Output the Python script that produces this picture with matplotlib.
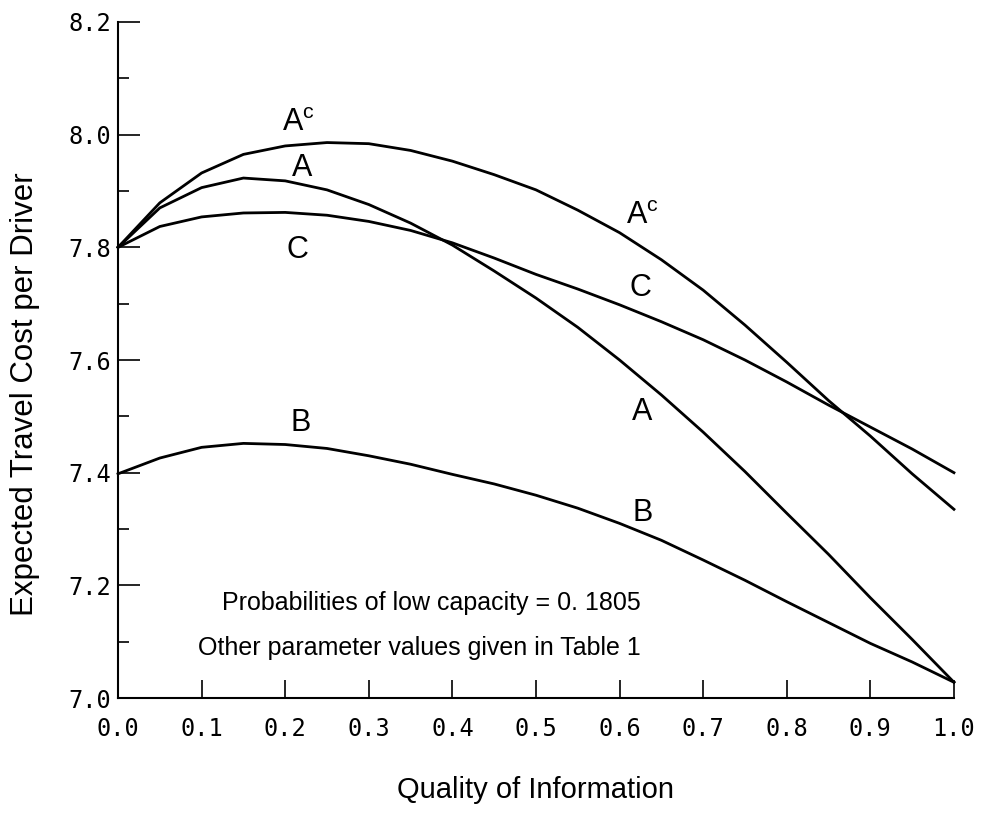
import numpy as np
import matplotlib
matplotlib.use('Agg')
import matplotlib.pyplot as plt
from matplotlib.ticker import MultipleLocator

# quality of information
x = [0.0, 0.05, 0.1, 0.15, 0.2, 0.25, 0.3, 0.35, 0.4, 0.45, 0.5,
     0.55, 0.6, 0.65, 0.7, 0.75, 0.8, 0.85, 0.9, 0.95, 1.0]

# expected travel cost per driver
cost_Ac = [7.800, 7.879, 7.932, 7.965, 7.980, 7.986, 7.984, 7.972, 7.953, 7.929, 7.902,
           7.866, 7.826, 7.778, 7.724, 7.662, 7.596, 7.528, 7.465, 7.398, 7.335]
cost_A = [7.800, 7.870, 7.906, 7.923, 7.918, 7.902, 7.876, 7.843, 7.804, 7.758, 7.710,
          7.658, 7.600, 7.538, 7.472, 7.402, 7.328, 7.255, 7.178, 7.104, 7.028]
cost_C = [7.800, 7.837, 7.854, 7.861, 7.862, 7.857, 7.846, 7.830, 7.808, 7.781, 7.752,
          7.726, 7.698, 7.668, 7.636, 7.600, 7.561, 7.520, 7.481, 7.442, 7.400]
cost_B = [7.398, 7.426, 7.445, 7.452, 7.450, 7.443, 7.430, 7.415, 7.397, 7.380, 7.360,
          7.337, 7.310, 7.280, 7.245, 7.209, 7.171, 7.134, 7.097, 7.064, 7.028]

xticks = [0.0, 0.1, 0.2, 0.3, 0.4, 0.5, 0.6, 0.7, 0.8, 0.9, 1.0]
yticks = [7.0, 7.2, 7.4, 7.6, 7.8, 8.0, 8.2]

fig = plt.figure(figsize=(9.86, 8.30), dpi=100)
ax = fig.add_axes([0.1197, 0.159, 0.8478, 0.8145])

for y in (cost_Ac, cost_A, cost_C, cost_B):
    ax.plot(x, y, color='black', lw=2.0, solid_joinstyle='round', clip_on=False)

ax.set_xlim(0.0, 1.0)
ax.set_ylim(7.0, 8.2)
ax.spines['top'].set_visible(False)
ax.spines['right'].set_visible(False)
ax.spines['left'].set_linewidth(1.5)
ax.spines['bottom'].set_linewidth(1.5)

ax.set_xticks(xticks)
ax.set_xticklabels(['%.1f' % v for v in xticks])
ax.set_yticks(yticks)
ax.set_yticklabels(['%.1f' % v for v in yticks])
ax.yaxis.set_minor_locator(MultipleLocator(0.1))
ax.tick_params(axis='x', direction='in', length=13, width=1.2, pad=14)
ax.tick_params(axis='y', which='major', direction='in', length=16, width=1.2, pad=5)
ax.tick_params(axis='y', which='minor', direction='in', length=8, width=1.2)
for lab in ax.get_xticklabels() + ax.get_yticklabels():
    lab.set_fontfamily('DejaVu Sans Mono')
    lab.set_fontsize(17)

ax.set_xlabel('Quality of Information', fontsize=21, fontfamily='Liberation Sans')
ax.set_ylabel('Expected Travel Cost per Driver', fontsize=22.5, fontfamily='Liberation Sans')
ax.xaxis.set_label_coords(0.5, -0.115)
ax.yaxis.set_label_coords(-0.093, 0.45)

# curve labels
lab_kw = dict(fontsize=22, fontfamily='Liberation Sans', ha='center', va='center')
ax.text(0.216, 8.02, 'A$^{\\mathregular{c}}$', **lab_kw)
ax.text(0.220, 7.94, 'A', **lab_kw)
ax.text(0.215, 7.795, 'C', **lab_kw)
ax.text(0.218, 7.488, 'B', **lab_kw)
ax.text(0.627, 7.855, 'A$^{\\mathregular{c}}$', **lab_kw)
ax.text(0.625, 7.728, 'C', **lab_kw)
ax.text(0.627, 7.508, 'A', **lab_kw)
ax.text(0.627, 7.328, 'B', **lab_kw)

ax.text(0.375, 7.169, 'Probabilities of low capacity = 0. 1805', fontsize=18,
        fontfamily='Liberation Sans', ha='center', va='center')
ax.text(0.361, 7.089, 'Other parameter values given in Table 1', fontsize=18,
        fontfamily='Liberation Sans', ha='center', va='center')

fig.savefig('out.png', dpi=100)
